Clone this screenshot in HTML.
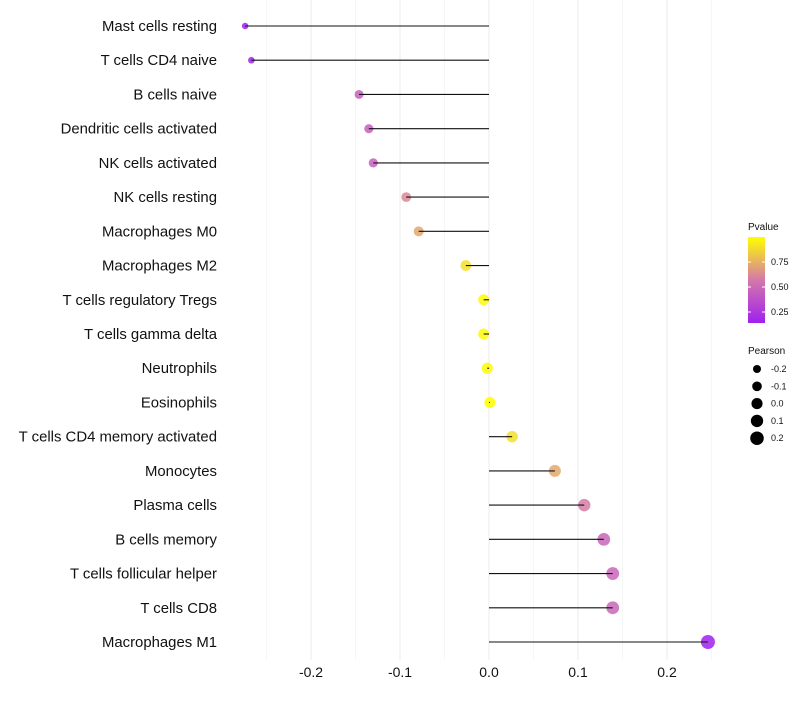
<!DOCTYPE html>
<html><head><meta charset="utf-8"><style>
body{margin:0;background:#fff;font-family:"Liberation Sans",sans-serif}
</style></head><body>
<svg id="c" width="800" height="700" xmlns="http://www.w3.org/2000/svg" font-family="Liberation Sans, sans-serif"></svg>
<script>
const categories=["Mast cells resting","T cells CD4 naive","B cells naive","Dendritic cells activated","NK cells activated","NK cells resting","Macrophages M0","Macrophages M2","T cells regulatory  Tregs","T cells gamma delta","Neutrophils","Eosinophils","T cells CD4 memory activated","Monocytes","Plasma cells","B cells memory","T cells follicular helper","T cells CD8","Macrophages M1"];
const pearson=[-0.274,-0.267,-0.146,-0.135,-0.130,-0.093,-0.079,-0.026,-0.006,-0.006,-0.002,0.001,0.026,0.074,0.107,0.129,0.139,0.139,0.246];
const pvalue=[0.14,0.16,0.45,0.45,0.45,0.62,0.72,0.9,0.98,0.98,0.99,1.0,0.9,0.72,0.58,0.48,0.48,0.48,0.14];
const xTicks=[-0.2,-0.1,0.0,0.1,0.2];
const xTickLabels=["-0.2","-0.1","0.0","0.1","0.2"];
const pTicks=[0.25,0.5,0.75];
const pTickLabels=["0.25","0.50","0.75"];
const sizeBreaks=[-0.2,-0.1,0.0,0.1,0.2];
const sizeLabels=["-0.2","-0.1","0.0","0.1","0.2"];

const svg=document.getElementById('c');
const NS="http://www.w3.org/2000/svg";
function el(t,a,p){const e=document.createElementNS(NS,t);for(const k in a)e.setAttribute(k,a[k]);(p||svg).appendChild(e);return e;}
const xs=v=>489+v*890;
const ys=i=>26+i*(616/18);
const rs=v=>Math.sqrt(Math.max(4,30.8+74*v));
function lerp(a,b,t){return a.map((x,i)=>Math.round(x+(b[i]-x)*t));}
function col(p){const lo=[160,32,240],mid=[212,120,170],hi=[255,255,0];let t=(p-0.14)/(1-0.14);t=Math.max(0,Math.min(1,t));const c=t<0.5?lerp(lo,mid,t*2):lerp(mid,hi,(t-0.5)*2);return `rgb(${c.join(',')})`;}

for(let v=-0.25;v<=0.2501;v+=0.05){
  const major=Math.abs(Math.round(v*100)%10)===0;
  const g=el('line',{x1:xs(v),x2:xs(v),y1:0,y2:660,stroke:major?'#ebebeb':'#f4f4f4','stroke-width':major?1:0.8});
  
  
}
xTicks.forEach((v,i)=>{
  const t=el('text',{x:xs(v),y:677,'text-anchor':'middle','font-size':14,fill:'#111'});
  t.textContent=xTickLabels[i];
  
  
});
categories.forEach((c,i)=>{
  const y=ys(i);
  const t=el('text',{x:217,y:y+5,'text-anchor':'end','font-size':14.9,fill:'#111'});
  t.textContent=c;
  
  
  const d=el('circle',{cx:xs(pearson[i]),cy:y,r:rs(pearson[i]),fill:col(pvalue[i]),'fill-opacity':0.85});
  
  
  const l=el('line',{x1:xs(0),x2:xs(pearson[i]),y1:y,y2:y,stroke:'#111','stroke-width':1.1});
  
  
});
const defs=el('defs',{});
const gr=el('linearGradient',{id:'pg',x1:0,y1:1,x2:0,y2:0},defs);
[0,0.25,0.5,0.75,1].forEach(s=>el('stop',{offset:s,'stop-color':col(0.14+s*0.86)},gr));
let t=el('text',{x:748,y:230,'font-size':10,fill:'#111'});t.textContent='Pvalue';


const bar=el('rect',{x:748,y:237,width:17,height:86,fill:'url(#pg)'});


const pY=v=>323-(v-0.14)/0.86*86;
pTicks.forEach((v,i)=>{
  el('line',{x1:748,x2:751,y1:pY(v),y2:pY(v),stroke:'#fff'});
  el('line',{x1:762,x2:765,y1:pY(v),y2:pY(v),stroke:'#fff'});
  const tt=el('text',{x:771,y:pY(v)+3,'font-size':9,fill:'#111'});tt.textContent=pTickLabels[i];
  
  
});
t=el('text',{x:748,y:354,'font-size':10,fill:'#111'});t.textContent='Pearson';


sizeBreaks.forEach((v,i)=>{
  const y=369+i*17.3;
  const c=el('circle',{cx:757,cy:y,r:rs(v),fill:'#000'});
  
  
  const tt=el('text',{x:771,y:y+3,'font-size':9,fill:'#111'});tt.textContent=sizeLabels[i];
  
  
});
</script>
</body></html>
